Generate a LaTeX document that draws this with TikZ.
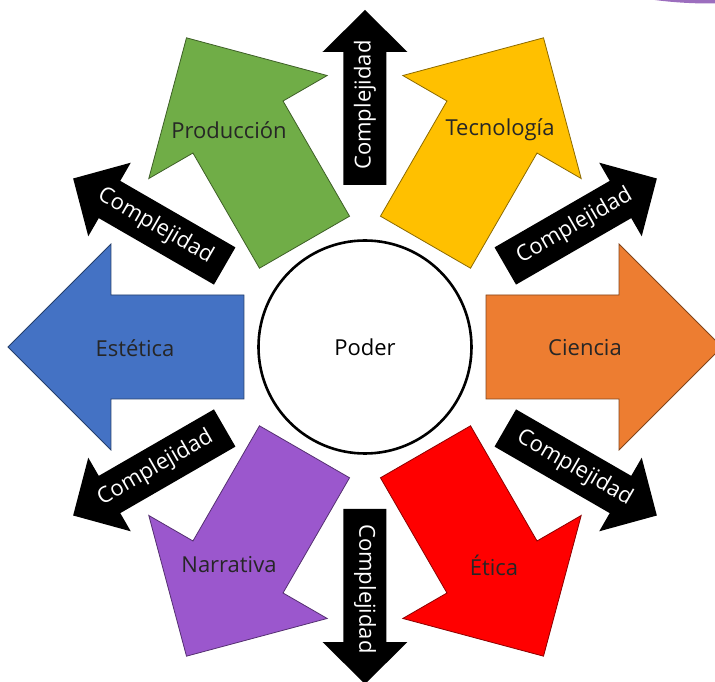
\documentclass[tikz,border=0pt]{standalone}
\usepackage{fontspec}
\setmainfont{Open Sans}
\usepackage{tikz}
\definecolor{orangeC}{HTML}{ED7D31}
\definecolor{yellowC}{HTML}{FFC000}
\definecolor{greenC}{HTML}{70AD47}
\definecolor{blueC}{HTML}{4472C4}
\definecolor{purpleC}{HTML}{9B57CD}
\definecolor{redC}{HTML}{FF0000}
\tikzset{
  bigarrow/.style={fill=#1, draw=#1!55!black, line width=0.8pt, line join=miter},
  smallarrow/.style={fill=black},
  lbl/.style={font=\fontsize{22}{26}\selectfont, text=black!85},
  cplx/.style={font=\fontsize{22}{26}\selectfont, text=white, inner sep=0pt}
}

\begin{document}
\begin{tikzpicture}[x=1pt, y=1pt]
		\useasboundingbox (-365,-335) rectangle (350,347);
		\fill[purpleC!85!black!80] (345,387) ellipse (140 and 43.5);
		\foreach \ang/\col in {0/orangeC, 60/yellowC, 120/greenC, 180/blueC, 240/purpleC, 300/redC}
			\path[bigarrow=\col, rotate=\ang] (121,-52) -- (254,-52) -- (254,-103) -- (357,0)
				-- (254,103) -- (254,52) -- (121,52) -- cycle;
		\foreach \ang in {30,90,...,330}
			\path[smallarrow, rotate=\ang] (162,-21.5) -- (295,-21.5) -- (295,-42.5) -- (337,0)
				-- (295,42.5) -- (295,21.5) -- (162,21.5) -- cycle;
		\foreach \ang/\rot in {30/30, 90/90, 150/-30, 210/30, 270/-90, 330/-30}
			\node[cplx, rotate=\rot](c\ang) at (\ang:242){Complejidad};
		\node(poder)[circle, draw, line width=2.6pt, fill=white, minimum size=213pt, font=\fontsize{22}{26}\selectfont]{Poder};
		\node(ciencia)[lbl] at (220,-1){Ciencia};
		\node(tecnologia)[lbl] at (135,217){Tecnología};
		\node(produccion)[lbl] at (-136,217){Producción};
		\node(estetica)[lbl] at (-230,-1){Estética};
		\node(narrativa)[lbl] at (-136,-218){Narrativa};
		\node(etica)[lbl] at (129,-218){Ética};
	\end{tikzpicture}
\end{document}
